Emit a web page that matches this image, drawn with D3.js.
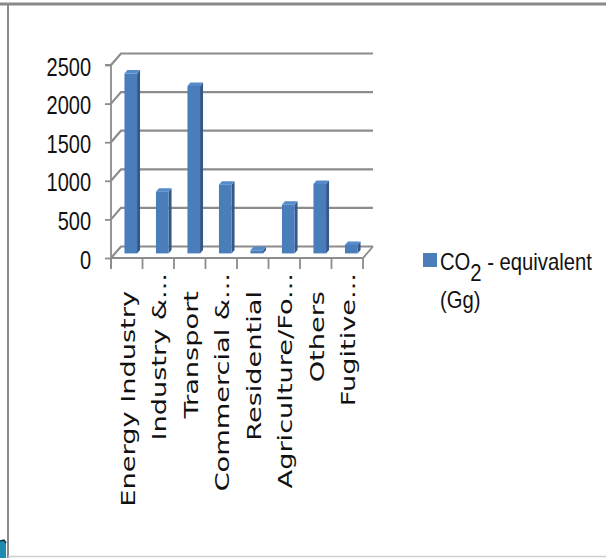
<html>
<head>
<script src="https://d3js.org/d3.v7.min.js"></script>
<style>
  body { margin: 0; background: #fff; }
  svg { display: block; }
</style>
</head>
<body>
<svg id="chart" width="606" height="558"></svg>
<script>
  // data
  const categories = ["Energy Industry", "Industry &...", "Transport", "Commercial &...",
                      "Residential", "Agriculture/Fo...", "Others", "Fugitive..."];
  const co2Values = [2330, 800, 2170, 890, 40, 630, 900, 110];
  const yTicks = [0, 500, 1000, 1500, 2000, 2500];
  const seriesName = ["CO", "2", " - equivalent", "(Gg)"];

  const svg = d3.select("svg#chart");
  const textFont = "'Liberation Sans', Arial, sans-serif";

  // frame of the slide
  svg.append("line").attr("x1", 0).attr("x2", 606).attr("y1", 4).attr("y2", 4)
    .attr("stroke", "#8a8a8a").attr("stroke-width", 3);
  svg.append("line").attr("x1", 8).attr("x2", 8).attr("y1", 3).attr("y2", 558)
    .attr("stroke", "#8a8a8a").attr("stroke-width", 2);
  svg.append("line").attr("x1", 8).attr("x2", 606).attr("y1", 556.5).attr("y2", 556.5)
    .attr("stroke", "#cfcfcf").attr("stroke-width", 1.5);
  svg.append("path").attr("d", "M0,541 L4,540 L6,543 L6,558 L0,558 Z").attr("fill", "#1e8bb0");
  svg.append("path").attr("d", "M0,541 L4,540 L6,543").attr("fill", "none").attr("stroke", "#10323f").attr("stroke-width", 1.5);

  // 3d geometry: front plane and depth offset of the back wall
  const depth = {dx: 10, dy: -11.5};
  const x = d3.scaleBand().domain(categories).range([111, 363]).paddingInner(0).paddingOuter(0);
  const y = d3.scaleLinear().domain([0, 2500]).range([258, 65]);
  const front = 0.4, back = 0.7;   // bar position within the depth
  const barW = x.bandwidth() * 0.4;

  const grid = svg.append("g");
  const gridColor = "#8c8c8c";
  const x0 = x.range()[0], x1 = x.range()[1];

  // side-wall diagonals and back-wall gridlines
  yTicks.forEach(t => {
    grid.append("path")
      .attr("d", `M${x0},${y(t)} L${x0 + depth.dx},${y(t) + depth.dy} L${x1 + depth.dx},${y(t) + depth.dy}`)
      .attr("fill", "none").attr("stroke", gridColor).attr("stroke-width", 2.2);
  });
  // floor front and right edges
  grid.append("path")
    .attr("d", `M${x0},${y(0)} L${x1},${y(0)} L${x1 + depth.dx},${y(0) + depth.dy}`)
    .attr("fill", "none").attr("stroke", gridColor).attr("stroke-width", 1.8);

  // y axis
  const yAxis = d3.axisLeft(y).tickValues(yTicks).tickFormat(d3.format("d")).tickSize(6).tickPadding(19);
  const yg = svg.append("g").attr("transform", `translate(${x0},0)`).call(yAxis);
  yg.select(".domain").attr("stroke", gridColor).attr("stroke-width", 1.8)
    .attr("d", `M-6,${y(2500)}H0V${y(0) + 11}`);
  yg.selectAll(".tick line").attr("stroke", gridColor).attr("stroke-width", 1.8);
  yg.selectAll(".tick text")
    .attr("fill", "#111")
    .attr("dy", "0.4em")
    .attr("transform", "scale(0.8,1)")
    .style("font-family", textFont)
    .style("font-size", "25px");

  // category ticks under the floor
  svg.append("g").selectAll("line")
    .data(categories.map(c => x(c)).concat([x1]))
    .join("line")
    .attr("x1", d => d).attr("x2", d => d)
    .attr("y1", y(0)).attr("y2", y(0) + 11)
    .attr("stroke", gridColor).attr("stroke-width", 1.8);

  // bars: front, side, top faces
  const fx = d => x(d.c) + (x.bandwidth() - barW) / 2 + front * depth.dx;
  const fyBase = y(0) + front * depth.dy;
  const yb = d3.scaleLinear().domain([0, 2500]).range([fyBase, y(2500) + front * depth.dy]);
  const ddx = (back - front) * depth.dx, ddy = (back - front) * depth.dy;
  const barData = categories.map((c, i) => ({c: c, v: co2Values[i]}));

  const bars = svg.append("g").selectAll("g").data(barData).join("g");
  bars.append("path")
    .attr("d", d => {
      const xr = fx(d) + barW, yt = yb(d.v);
      return `M${xr},${yt} L${xr + ddx},${yt + ddy} L${xr + ddx},${fyBase + ddy} L${xr},${fyBase} Z`;
    })
    .attr("fill", "#345888");
  bars.append("path")
    .attr("d", d => {
      const xl = fx(d), yt = yb(d.v);
      return `M${xl},${yt} L${xl + ddx},${yt + ddy} L${xl + barW + ddx},${yt + ddy} L${xl + barW},${yt} Z`;
    })
    .attr("fill", "#558bcb");
  bars.append("rect")
    .attr("x", d => fx(d))
    .attr("y", d => yb(d.v))
    .attr("width", barW)
    .attr("height", d => fyBase - yb(d.v))
    .attr("fill", "#4a7ebb");

  // rotated category labels
  svg.append("g").selectAll("text")
    .data(categories)
    .join("text")
    .attr("transform", d => {
      const endY = d.endsWith("...") ? 273 : 291;
      return `translate(${x(d) + x.bandwidth() / 2 + 1},${endY}) scale(1,1.36) rotate(-90)`;
    })
    .attr("text-anchor", "end")
    .attr("dy", "0.36em")
    .attr("fill", "#111")
    .style("font-family", "'DejaVu Sans', Verdana, sans-serif")
    .style("font-size", "20px")
    .text(d => d);

  // legend
  const lg = svg.append("g").attr("transform", "translate(423,253)");
  lg.append("rect").attr("width", 14).attr("height", 14).attr("fill", "#4a7ebb");
  const ltg = lg.append("g").attr("transform", "translate(17,0) scale(0.88,1)");
  const lt = ltg.append("text")
    .attr("x", 0).attr("y", 17)
    .attr("fill", "#111")
    .style("font-family", textFont)
    .style("font-size", "23px");
  lt.append("tspan").text(seriesName[0]);
  lt.append("tspan").attr("dy", 11).text(seriesName[1]);
  lt.append("tspan").attr("dy", -11).text(seriesName[2]);
  ltg.append("text")
    .attr("x", 0).attr("y", 55)
    .attr("fill", "#111")
    .style("font-family", textFont)
    .style("font-size", "23px")
    .text(seriesName[3]);
</script>
</body>
</html>
